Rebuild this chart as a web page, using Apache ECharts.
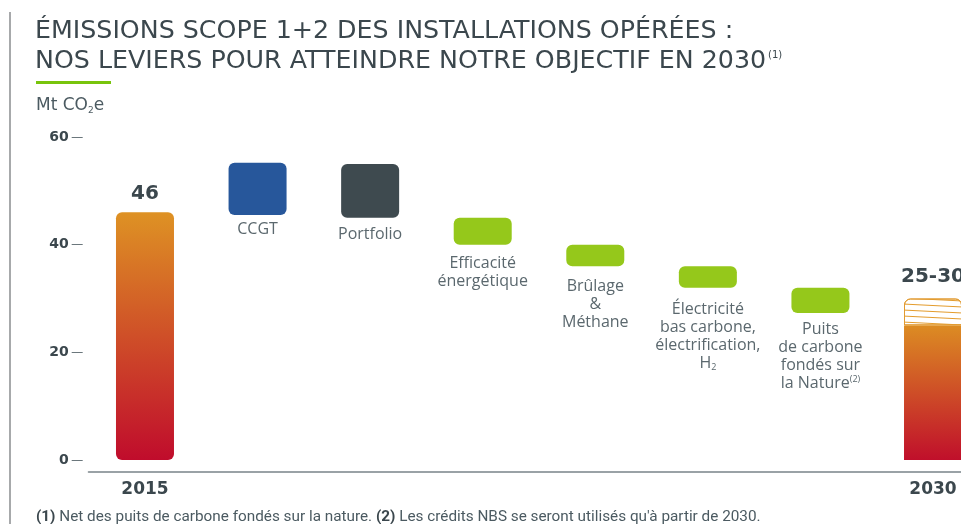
<!DOCTYPE html>
<html><head><meta charset="utf-8">
<script src="https://cdn.jsdelivr.net/npm/echarts@6/dist/echarts.min.js"></script>
<style>html,body{margin:0;padding:0;background:#fff}#c{width:961px;height:524px}</style>
</head><body><div id="c"></div>
<script>
// ---- data ----
const categories = ['2015', 'CCGT', 'Portfolio', 'Efficacité énergétique', 'Brûlage & Méthane',
  'Électricité bas carbone, électrification, H2', 'Puits de carbone fondés sur la Nature', '2030'];
const emissions2015 = 46;
const leverLow  = [45.5, 45, 40, 36, 32, 27.3];
const leverHigh = [55.2, 55, 45, 40, 36, 32];
const target2030Low = 25;
const target2030High = 30;
const yTicks = [0, 20, 40, 60];

const dark = '#3b474d';
const textGray = '#5b686e';
const HEAD = 'DejaVu Sans';
const BODY = 'Open Sans';
const leverColors = ['#27579b', '#3e4a4f', '#95c81b', '#95c81b', '#95c81b', '#95c81b'];
const leverLabels = [
  'CCGT', 'Portfolio', 'Efficacité\nénergétique', 'Brûlage\n&\nMéthane',
  'Électricité\nbas carbone,\nélectrification,\nH{sub|2}',
  'Puits\nde carbone\nfondés sur\nla Nature{sup|(2)}'
];
const labelDist = [5, 8, 10, 11, 13, 7];

const baseData = [0].concat(leverLow).concat([0]);
const mainData = [];
const gradTop = (c1, c2) => ({type: 'linear', x: 0, y: 0, x2: 0, y2: 1, colorStops: [{offset: 0, color: c1}, {offset: 1, color: c2}]});
mainData.push({
  value: emissions2015,
  itemStyle: {color: gradTop('#de9224', '#c00c2c'), borderRadius: 6},
  label: {show: true, position: 'top', distance: 9, formatter: '46', fontSize: 20, fontWeight: 'bold', color: dark, fontFamily: HEAD}
});
leverLow.forEach((lo, i) => {
  mainData.push({
    value: +(leverHigh[i] - lo).toFixed(2),
    itemStyle: {color: leverColors[i], borderRadius: 6},
    label: {
      show: true, position: 'bottom', distance: labelDist[i], formatter: leverLabels[i],
      fontSize: 16, lineHeight: 18, color: textGray, fontFamily: BODY, align: 'center',
      rich: {
        sub: {fontSize: 9, color: textGray, fontFamily: BODY, padding: [8, 0, 0, 0]},
        sup: {fontSize: 9, color: textGray, fontFamily: BODY, padding: [0, 0, 8, 0]}
      }
    }
  });
});
mainData.push({
  value: target2030Low,
  itemStyle: {color: gradTop('#dc8c23', '#c00f2b'), borderRadius: 0}
});
const hatchData = categories.map(() => '-');
hatchData[7] = {
  value: target2030High - target2030Low,
  itemStyle: {
    color: '#ffffff', borderColor: '#e19a30', borderWidth: 1, borderRadius: [6, 6, 0, 0],
    decal: {symbol: 'rect', symbolSize: 1, dashArrayX: [[8, 0]], dashArrayY: [1, 5], rotation: 0.05, color: '#e39b2b'}
  },
  label: {show: true, position: 'top', distance: 12, formatter: '25-30', fontSize: 20, fontWeight: 'bold', color: dark, fontFamily: HEAD}
};

const chart = echarts.init(document.getElementById('c'), null, {renderer: 'canvas'});
chart.setOption({
  animation: false,
  title: [
    {text: 'ÉMISSIONS SCOPE 1+2 DES INSTALLATIONS OPÉRÉES :', left: 35, top: 16, padding: 0,
     textStyle: {fontSize: 25.3, fontWeight: 'normal', color: dark, fontFamily: HEAD, lineHeight: 30}},
    {text: 'NOS LEVIERS POUR ATTEINDRE NOTRE OBJECTIF EN 2030{sup|(1)}', left: 35, top: 46, padding: 0,
     textStyle: {fontSize: 25.3, fontWeight: 'normal', color: dark, fontFamily: HEAD, lineHeight: 30,
       rich: {sup: {fontSize: 10, color: dark, fontFamily: HEAD, padding: [0, 0, 12, 2]}}}},
    {text: 'Mt CO{sub|2}e', left: 36, top: 96, padding: 0,
     textStyle: {fontSize: 17, fontWeight: 'normal', color: '#4b5a61', fontFamily: HEAD, lineHeight: 20,
       rich: {sub: {fontSize: 9, color: '#4b5a61', fontFamily: HEAD, padding: [10, 0, 0, 0]}}}},
    {text: '{b|(1)} Net des puits de carbone fondés sur la nature. {b|(2)} Les crédits NBS se seront utilisés qu\'à partir de 2030.',
     left: 36, top: 508, padding: 0,
     textStyle: {fontSize: 15.3, fontWeight: 'normal', color: '#4b5a61', fontFamily: 'Roboto', lineHeight: 18,
       rich: {b: {fontSize: 15.3, fontWeight: 'bold', color: dark, fontFamily: 'Roboto'}}}}
  ],
  graphic: [
    {type: 'rect', shape: {x: 9, y: 12, width: 2, height: 520}, style: {fill: '#a7a9ab'}},
    {type: 'rect', shape: {x: 36, y: 81, width: 75, height: 3}, style: {fill: '#78c40c'}}
  ],
  grid: {left: 88.7, width: 900.6, top: 137, height: 323, containLabel: false, outerBoundsMode: 'none'},
  xAxis: {
    type: 'category', data: categories, offset: 12,
    axisLine: {show: true, onZero: false, lineStyle: {color: '#9aa2a6', width: 2}},
    axisTick: {show: false},
    axisLabel: {interval: 0, margin: 9, fontSize: 17, fontWeight: 'bold', color: dark, fontFamily: HEAD,
      formatter: v => (v === '2015' || v === '2030') ? v : ''}
  },
  yAxis: {
    type: 'value', min: yTicks[0], max: yTicks[yTicks.length - 1], interval: 20, offset: 6,
    axisLine: {show: false},
    axisTick: {show: true, length: 11, lineStyle: {color: '#6b777c', width: 1}},
    splitLine: {show: false},
    axisLabel: {margin: 14, fontSize: 14, fontWeight: 'bold', color: dark, fontFamily: HEAD}
  },
  series: [
    {type: 'bar', stack: 'w', barWidth: 58, silent: true, itemStyle: {color: 'rgba(0,0,0,0)'}, data: baseData},
    {type: 'bar', stack: 'w', barWidth: 58, data: mainData},
    {type: 'bar', stack: 'w', barWidth: 58, data: hatchData}
  ]
});
</script></body></html>
